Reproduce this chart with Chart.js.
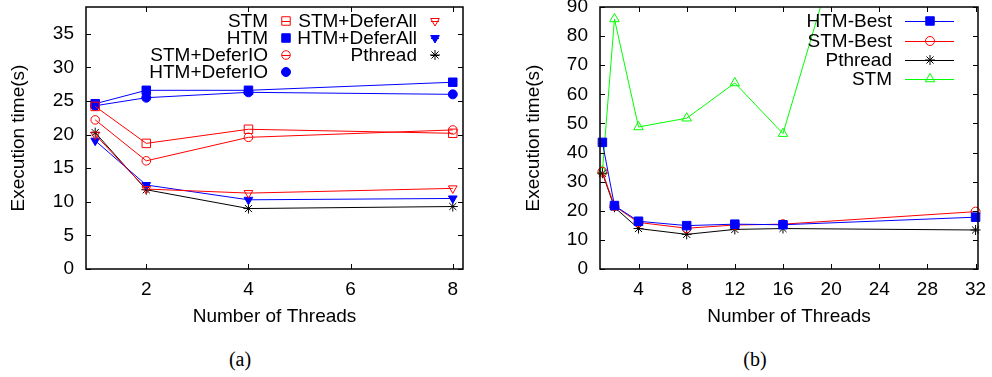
<!DOCTYPE html>
<html>
<head>
<meta charset="utf-8">
<script src="https://cdn.jsdelivr.net/npm/chart.js@4.4.0/dist/chart.umd.min.js"></script>
<style>
  body { margin: 0; background: #fff; width: 992px; height: 377px; position: relative; overflow: hidden; }
  canvas { position: absolute; top: 0; }
  #chartA { left: 0; }
  #chartB { left: 490px; }
  .cap { position: absolute; top: 347px; width: 60px; margin-left: -30px; text-align: center;
         font: 20px "Liberation Serif", serif; line-height: 24px; color: #000; }
</style>
</head>
<body>
<canvas id="chartA" width="490" height="330"></canvas>
<canvas id="chartB" width="502" height="330"></canvas>
<div class="cap" style="left:240px">(a)</div>
<div class="cap" style="left:755px">(b)</div>
<script>
// (a) small thread counts
var threadsA = [1, 2, 4, 8];
var stmA          = [24.2, 18.7, 20.8, 20.2];
var htmA          = [24.6, 26.6, 26.6, 27.8];
var stmDeferIOA   = [22.2, 16.1, 19.6, 20.7];
var htmDeferIOA   = [24.3, 25.5, 26.3, 26.0];
var stmDeferAllA  = [20.0, 11.9, 11.3, 12.0];
var htmDeferAllA  = [19.1, 12.5, 10.3, 10.5];
var pthreadA      = [20.3, 11.8, 9.0, 9.3];
var xTicksA = [2, 4, 6, 8];
var yTicksA = [0, 5, 10, 15, 20, 25, 30, 35];

// (b) up to 32 threads
var threadsB = [1, 2, 4, 8, 12, 16, 32];
var htmBestB  = [43.5, 21.8, 16.4, 14.9, 15.4, 15.2, 17.8];
var stmBestB  = [33.4, 21.6, 16.0, 14.0, 15.1, 15.4, 19.7];
var pthreadB  = [32.9, 21.2, 13.9, 11.9, 13.6, 13.9, 13.4];
var stmB      = [33.6, 85.9, 48.8, 51.8, 63.9, 46.5, 270];
var xTicksB = [4, 8, 12, 16, 20, 24, 28, 32];
var yTicksB = [0, 10, 20, 30, 40, 50, 60, 70, 80, 90];

var FONT = '"Liberation Sans", Arial, sans-serif';
Chart.defaults.font.family = FONT;
Chart.defaults.font.size = 19;
Chart.defaults.color = '#000';

function pts(xs, ys) {
    return xs.map(function (x, i) { return { x: x, y: ys[i] }; });
}

function series(label, xs, ys, color, style, radius, filled, rot) {
    return {
        label: label,
        data: pts(xs, ys),
        borderColor: color,
        borderWidth: 1,
        pointStyle: style,
        pointRadius: radius,
        pointRotation: rot || 0,
        pointBorderColor: color,
        pointBorderWidth: 1,
        pointBackgroundColor: filled ? color : 'rgba(255,255,255,0)',
        tension: 0,
        clip: { left: 8, top: 0, right: 8, bottom: 8 }
    };
}

// inward ticks on all four sides + frame, like gnuplot
var frameTicks = {
    id: 'frameTicks',
    afterDatasetsDraw: function (chart) {
        var ctx = chart.ctx, a = chart.chartArea, x = chart.scales.x, y = chart.scales.y;
        ctx.save();
        ctx.strokeStyle = '#000';
        ctx.lineWidth = 1;
        ctx.beginPath();
        x.ticks.forEach(function (t) {
            var p = Math.round(x.getPixelForValue(t.value)) + 0.5;
            ctx.moveTo(p, a.bottom); ctx.lineTo(p, a.bottom - 5);
            ctx.moveTo(p, a.top); ctx.lineTo(p, a.top + 5);
        });
        y.ticks.forEach(function (t) {
            var p = Math.round(y.getPixelForValue(t.value)) + 0.5;
            ctx.moveTo(a.left, p); ctx.lineTo(a.left + 5, p);
            ctx.moveTo(a.right, p); ctx.lineTo(a.right - 5, p);
        });
        ctx.stroke();
        ctx.lineWidth = 1.5;
        ctx.strokeRect(a.left, a.top, a.right - a.left, a.bottom - a.top);
        ctx.restore();
    }
};

// gnuplot style key: right-aligned text, then sample
var keyBox = {
    id: 'keyBox',
    afterDraw: function (chart, args, opts) {
        var ctx = chart.ctx;
        ctx.save();
        ctx.font = '19px ' + FONT;
        ctx.textAlign = 'right';
        ctx.textBaseline = 'middle';
        opts.items.forEach(function (it, i) {
            var ds = chart.data.datasets[i];
            ctx.fillStyle = '#000';
            ctx.fillText(ds.label, it.tx, it.y + 1);
            ctx.strokeStyle = ds.borderColor;
            ctx.lineWidth = 1;
            ctx.beginPath();
            ctx.moveTo(it.l0, it.y + 0.5);
            ctx.lineTo(it.l1, it.y + 0.5);
            ctx.stroke();
            ctx.fillStyle = ds.pointBackgroundColor;
            Chart.helpers.drawPoint(ctx, {
                pointStyle: ds.pointStyle, radius: ds.pointRadius,
                rotation: ds.pointRotation, borderWidth: 1
            }, it.mx, it.y);
        });
        ctx.restore();
    }
};

function scales(cfg) {
    return {
        x: {
            type: 'linear', min: cfg.xmin, max: cfg.xmax,
            grid: { display: false, drawTicks: false }, border: { display: false },
            ticks: { padding: 9, font: { size: 19 }, color: '#000' },
            afterBuildTicks: function (s) { s.ticks = cfg.xt.map(function (v) { return { value: v }; }); },
            afterFit: function (s) { s.height = 61; s.paddingLeft = 0; s.paddingRight = 0; },
            title: { display: true, text: 'Number of Threads', font: { size: 19 }, color: '#000',
                     padding: { top: 0, bottom: 2 } }
        },
        y: {
            type: 'linear', min: 0, max: cfg.ymax,
            grid: { display: false, drawTicks: false }, border: { display: false },
            ticks: { padding: 12, font: { size: 19 }, color: '#000' },
            afterBuildTicks: function (s) { s.ticks = cfg.yt.map(function (v) { return { value: v }; }); },
            afterFit: function (s) { s.width = cfg.yw; s.paddingTop = 0; s.paddingBottom = 0; },
            title: { display: true, text: 'Execution time(s)', font: { size: 19 }, color: '#000',
                     padding: { top: cfg.tp, bottom: 0 } }
        }
    };
}

var RED = '#ff0000', BLUE = '#0000ff', BLACK = '#000000', GREEN = '#00ff00';

new Chart(document.getElementById('chartA').getContext('2d'), {
    type: 'line',
    data: {
        datasets: [
            series('STM', threadsA, stmA, RED, 'rect', 6, false),
            series('HTM', threadsA, htmA, BLUE, 'rect', 6, true),
            series('STM+DeferIO', threadsA, stmDeferIOA, RED, 'circle', 4.3, false),
            series('HTM+DeferIO', threadsA, htmDeferIOA, BLUE, 'circle', 4.5, true),
            series('STM+DeferAll', threadsA, stmDeferAllA, RED, 'triangle', 5, false, 180),
            series('HTM+DeferAll', threadsA, htmDeferAllA, BLUE, 'triangle', 5, true, 180),
            series('Pthread', threadsA, pthreadA, BLACK, 'star', 5, false)
        ]
    },
    options: {
        responsive: false,
        animation: false,
        layout: { padding: { top: 7, right: 27, left: 0, bottom: 0 } },
        scales: scales({ xmin: 0.82, xmax: 8.2, ymax: 39, xt: xTicksA, yt: yTicksA, yw: 86, tp: 7 }),
        plugins: {
            legend: { display: false },
            tooltip: { enabled: false },
            keyBox: {
                items: [
                    { tx: 268, y: 21, l0: 282, l1: 290, mx: 286 },
                    { tx: 268, y: 38, l0: 282, l1: 290, mx: 286 },
                    { tx: 268, y: 55, l0: 282, l1: 290, mx: 286 },
                    { tx: 268, y: 72, l0: 282, l1: 290, mx: 286 },
                    { tx: 417, y: 21, l0: 431, l1: 439, mx: 435 },
                    { tx: 417, y: 38, l0: 431, l1: 439, mx: 435 },
                    { tx: 417, y: 55, l0: 431, l1: 439, mx: 435 }
                ]
            }
        }
    },
    plugins: [frameTicks, keyBox]
});

new Chart(document.getElementById('chartB').getContext('2d'), {
    type: 'line',
    data: {
        datasets: [
            series('HTM-Best', threadsB, htmBestB, BLUE, 'rect', 6, true),
            series('STM-Best', threadsB, stmBestB, RED, 'circle', 4.5, false),
            series('Pthread', threadsB, pthreadB, BLACK, 'star', 5, false),
            series('STM', threadsB, stmB, GREEN, 'triangle', 5.5, false)
        ]
    },
    options: {
        responsive: false,
        animation: false,
        layout: { padding: { top: 7, right: 14, left: 0, bottom: 0 } },
        scales: scales({ xmin: 0.8, xmax: 32.2, ymax: 90, xt: xTicksB, yt: yTicksB, yw: 110, tp: 32 }),
        plugins: {
            legend: { display: false },
            tooltip: { enabled: false },
            keyBox: {
                items: [
                    { tx: 402, y: 21, l0: 415, l1: 464, mx: 440 },
                    { tx: 402, y: 41, l0: 415, l1: 464, mx: 440 },
                    { tx: 402, y: 60, l0: 415, l1: 464, mx: 440 },
                    { tx: 402, y: 79, l0: 415, l1: 464, mx: 440 }
                ]
            }
        }
    },
    plugins: [frameTicks, keyBox]
});
</script>
</body>
</html>
